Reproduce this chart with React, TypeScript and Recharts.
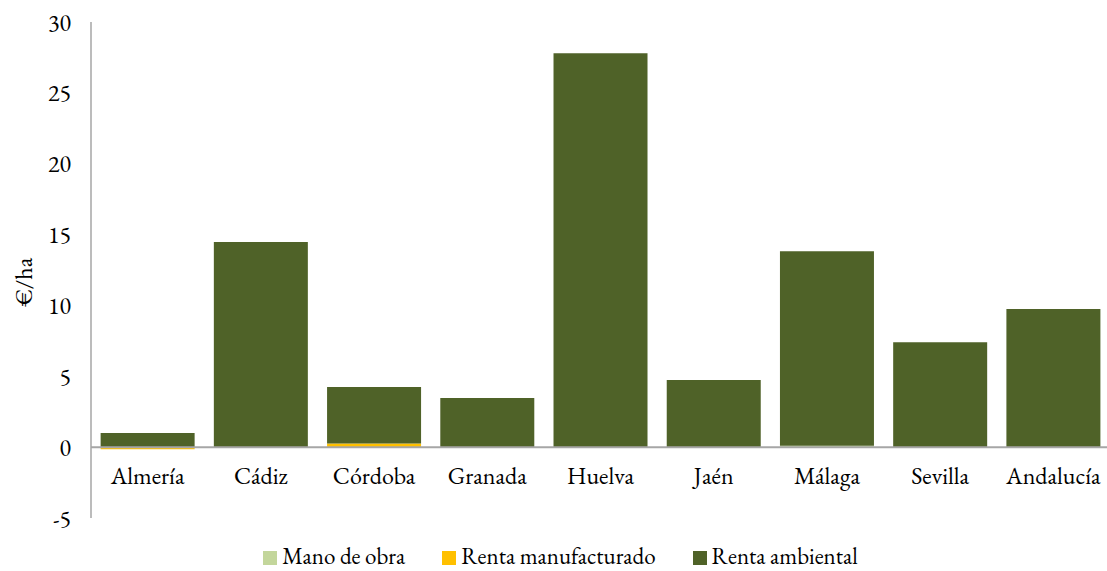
import { BarChart, Bar, XAxis, YAxis, ReferenceLine } from "recharts";

const provincias = ["Almería", "Cádiz", "Córdoba", "Granada", "Huelva", "Jaén", "Málaga", "Sevilla", "Andalucía"];
const manoDeObra = [0, 0, 0, 0, 0, 0, 0.1, 0, 0];
const rentaManufacturado = [-0.15, 0, 0.25, 0, 0, 0, 0, 0, 0];
const rentaAmbiental = [1.0, 14.47, 4.0, 3.46, 27.8, 4.73, 13.73, 7.41, 9.74];
const yTicks = [-5, 0, 5, 10, 15, 20, 25, 30];

const series = [
  { key: "mano", name: "Mano de obra", color: "#c3d69b" },
  { key: "manuf", name: "Renta manufacturado", color: "#ffc000" },
  { key: "amb", name: "Renta ambiental", color: "#4f6228" },
];

const data = provincias.map((p, i) => ({
  name: p,
  mano: manoDeObra[i],
  manuf: rentaManufacturado[i],
  amb: rentaAmbiental[i],
}));

const FONT = "EB Garamond, serif";
const FS = 24;

const CategoryTick = ({ x, y, payload }: any) => (
  <text x={x} y={y} dy={-42} textAnchor="middle" fill="#000" fontSize={FS} fontFamily={FONT}>
    {payload.value}
  </text>
);

export default function App() {
  return (
    <div style={{ position: "absolute", left: 0, top: 0, width: 1107, height: 571, background: "#fff", fontFamily: FONT }}>
      <BarChart
        width={1107}
        height={571}
        data={data}
        stackOffset="sign"
        barCategoryGap="8.5%"
        margin={{ top: 22, right: -3, left: 0, bottom: 23 }}
      >
        <XAxis
          dataKey="name"
          height={30}
          axisLine={false}
          tickLine={false}
          tick={<CategoryTick />}
          interval={0}
        />
        <YAxis
          width={91}
          domain={[-5, 30]}
          ticks={yTicks}
          interval={0}
          axisLine={{ stroke: "#a6a6a6", strokeWidth: 1.5 }}
          tickLine={false}
          tickSize={0}
          tickMargin={20}
          tick={{ fill: "#000", fontSize: FS, fontFamily: FONT }}
          label={{
            value: "€/ha",
            angle: -90,
            position: "insideLeft",
            dx: 18,
            dy: 12,
            style: { fill: "#000", fontSize: FS, fontFamily: FONT, textAnchor: "middle" },
          }}
        />
        {series.map((s) => (
          <Bar key={s.key} dataKey={s.key} name={s.name} stackId="a" fill={s.color} isAnimationActive={false} />
        ))}
        <ReferenceLine y={0} stroke="#a6a6a6" strokeWidth={2} />
      </BarChart>
      <div
        style={{
          position: "absolute",
          top: 545,
          left: 0,
          width: 1107,
          height: 22,
          display: "flex",
          justifyContent: "center",
          gap: 37,
          fontFamily: FONT,
          fontSize: 23,
          lineHeight: "22px",
          color: "#000",
          paddingLeft: 14,
          boxSizing: "border-box",
        }}
      >
        {series.map((s) => (
          <div key={s.key} style={{ display: "flex", alignItems: "center", gap: 5 }}>
            <span style={{ width: 14, height: 14, background: s.color, display: "inline-block", marginTop: 3 }} />
            <span>{s.name}</span>
          </div>
        ))}
      </div>
    </div>
  );
}
